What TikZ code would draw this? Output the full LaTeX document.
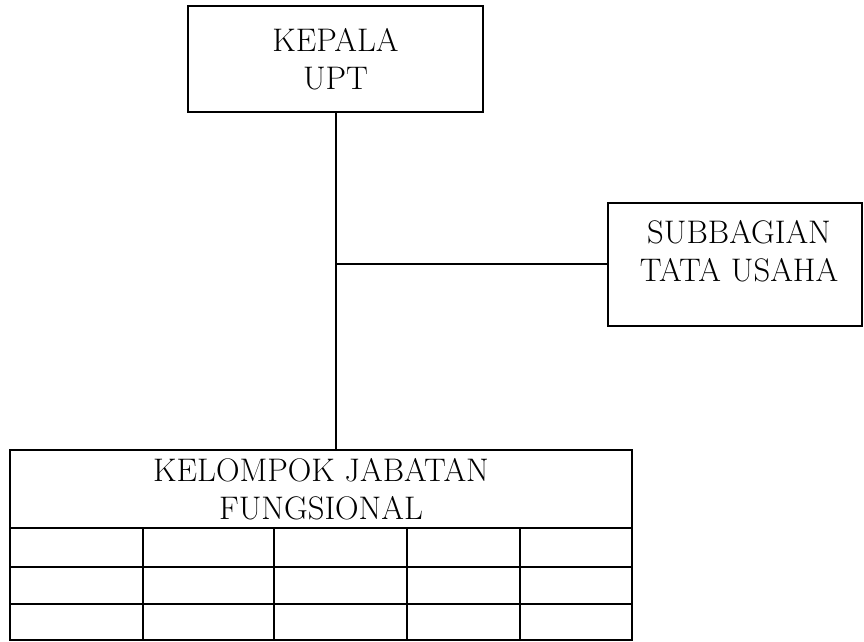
\documentclass[tikz,border=0pt]{standalone}
\usetikzlibrary{positioning}

\tikzset{every picture/.style={line width=1.5pt}}
\tikzset{
  orgbox/.style={draw, rectangle, inner sep=0pt, align=center,
    font=\fontsize{24.5}{28.5}\selectfont},
  orgtext/.style={inner sep=0pt, align=center,
    font=\fontsize{24.5}{28.5}\selectfont}
}

\begin{document}
\begin{tikzpicture}[x=0.75pt,y=0.75pt,yscale=-1,xscale=1]
	\useasboundingbox (0,0) rectangle (864,642);

	% Kepala UPT
	\node[orgbox, minimum width=295*0.75pt, minimum height=106*0.75pt] (kepala) at (335.5,59) {KEPALA\\UPT};

	% Subbagian Tata Usaha
	\node[orgbox, minimum width=254*0.75pt, minimum height=123*0.75pt] (tu) at (735,264) {};
	\node[orgtext] (tutext) at (739,251) {SUBBAGIAN\\TATA USAHA};

	% Kelompok Jabatan Fungsional (header)
	\node[orgbox, minimum width=622*0.75pt, minimum height=78*0.75pt] (kjf) at (321,489) {KELOMPOK JABATAN\\FUNGSIONAL};

	% grid under header
	\foreach \xa/\xb in {10/143,143/274,274/407,407/520,520/632}
	  \foreach \ya/\yb in {528/567,567/604,604/640}
	    \draw (\xa,\ya) rectangle (\xb,\yb);

	% connectors
	\draw (kepala.south) -- (kepala.south |- kjf.north);
	\draw (kepala.south |- tu.west) -- (tu.west);

\end{tikzpicture}
\end{document}
